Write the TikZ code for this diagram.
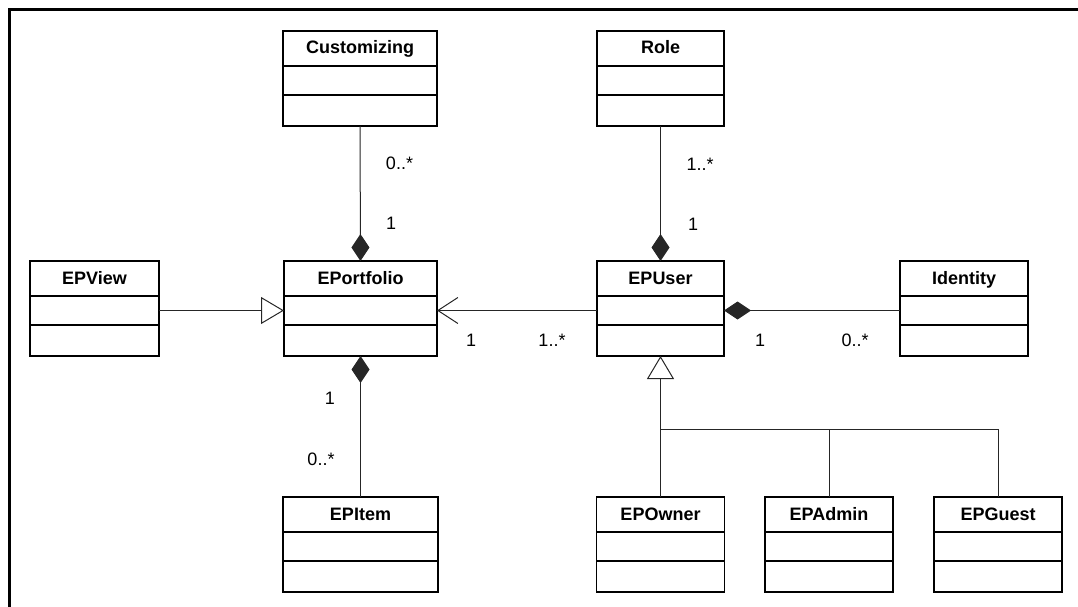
\documentclass[tikz,border=0pt]{standalone}
\usepackage{fontspec}
\setmainfont{Liberation Sans}
\usetikzlibrary{arrows.meta}

% 类框：名称 + 两个空栏
\newcommand{\umlclass}[4]{%
  \node[classbox, minimum width=#3] (#1) at (#2) {};
  \node[classname] (#1-name) at ([yshift=-23pt]#1.north) {#4};
  \draw[classbox] ([yshift=-35pt]#1.north west) -- ([yshift=-35pt]#1.north east);
  \draw[classbox] ([yshift=-64pt]#1.north west) -- ([yshift=-64pt]#1.north east);
}

\begin{document}
\begin{tikzpicture}[x=1pt, y=-1pt,
    classbox/.style={draw, line width=1.3pt, minimum height=95pt, anchor=north, inner sep=0pt, outer sep=0pt},
    classname/.style={anchor=base, inner sep=0pt, font=\bfseries\fontsize{18}{20}\selectfont},
    assoc/.style={draw=black!85, line width=1pt},
    mult/.style={inner sep=0pt, font=\fontsize{18}{20}\selectfont},
    compose/.style={{Diamond[length=27pt, width=18pt]}-},
    inherit/.style={-{Triangle[open, length=23pt, width=27pt]}}]
    \useasboundingbox (0,0) rectangle (1078,607);

    % 外框
    \draw[line width=3pt] (9,607) -- (9,10) -- (1078,10);

    % 类
    \umlclass{custom}{360,31}{154}{Customizing}
    \umlclass{role}{660.5,31}{127}{Role}
    \umlclass{view}{94.5,261}{129}{EPView}
    \umlclass{portfolio}{360.5,261}{153}{EPortfolio}
    \umlclass{user}{660.5,261}{127}{EPUser}
    \umlclass{ident}{964,261}{128}{Identity}
    \umlclass{item}{360.5,497}{155}{EPItem}
    \umlclass{owner}{660.5,497}{128}{EPOwner}
    \umlclass{admin}{829,497}{128}{EPAdmin}
    \umlclass{guest}{998,497}{128}{EPGuest}

    % 组合
    \draw[assoc, compose] (portfolio.north) -- (custom.south);
    \draw[assoc, compose] (user.north) -- (role.south);
    \draw[assoc, compose] (portfolio.south) -- (item.north);
    \draw[assoc, compose] ([yshift=-2pt]user.east) -- ([yshift=-2pt]ident.west);

    % 关联与继承
    \draw[assoc, -{Straight Barb[length=20pt, width=26pt]}] ([yshift=-2pt]user.west) -- ([yshift=-2pt]portfolio.east);
    \draw[assoc, inherit] ([yshift=-2pt]view.east) -- ([yshift=-2pt]portfolio.west);

    \coordinate (fork) at (660.5,429);
    \draw[assoc, inherit] (fork) -- (user.south);
    \draw[assoc] (owner.north) -- (fork) -| (guest.north);
    \draw[assoc] (fork -| admin.north) -- (admin.north);

    % 多重性
    \node[mult] (m1) at (399.5,163) {0..*};
    \node[mult] (m2) at (391,223) {1};
    \node[mult] (m3) at (700,164) {1..*};
    \node[mult] (m4) at (693,224) {1};
    \node[mult] (m5) at (471,340) {1};
    \node[mult] (m6) at (552,340) {1..*};
    \node[mult] (m7) at (760,340) {1};
    \node[mult] (m8) at (855,340) {0..*};
    \node[mult] (m9) at (330,398) {1};
    \node[mult] (m10) at (321,459) {0..*};
\end{tikzpicture}
\end{document}
